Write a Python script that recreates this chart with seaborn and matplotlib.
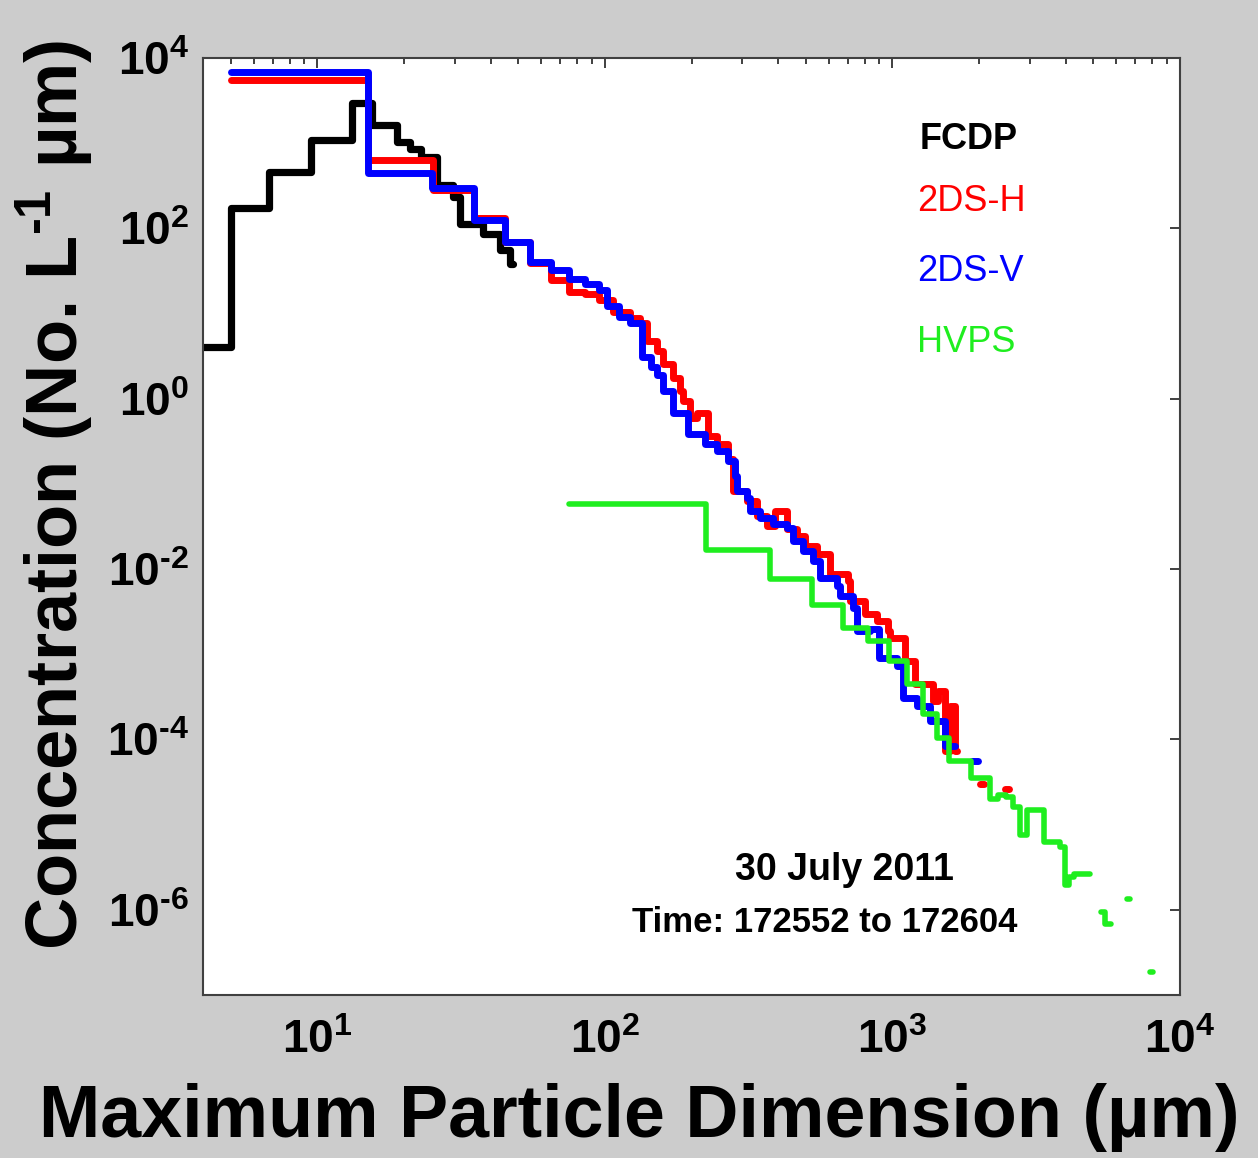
import numpy as np
import pandas as pd
import seaborn as sns
import matplotlib.pyplot as plt
from matplotlib.ticker import LogLocator, FuncFormatter, NullLocator

# Estilo general
sns.set_style('white')
plt.rcParams['font.family'] = ['Liberation Sans', 'DejaVu Sans']
plt.rcParams['mathtext.fontset'] = 'custom'
plt.rcParams['mathtext.rm'] = 'Liberation Sans:bold'
plt.rcParams['mathtext.bf'] = 'Liberation Sans:bold'
plt.rcParams['mathtext.it'] = 'Liberation Sans:bold'
plt.rcParams['text.color'] = 'black'
plt.rcParams['axes.labelcolor'] = 'black'
plt.rcParams['xtick.color'] = 'black'
plt.rcParams['ytick.color'] = 'black'

# --- datos (bordes de bin en um, concentracion por bin) ---
fcdp_edges = [3, 5, 6.8, 9.5, 13.2, 15.5, 18.9, 21, 23, 26, 29.7, 31.3, 37.8, 43.2, 46.8, 48]
fcdp_vals = [4.0, 172, 457, 1085, 2930, 1630, 1035, 850, 690, 321, 233, 113, 86.5, 55, 38.5]

h_edges = [5, 15, 25.2, 35, 45, 55, 65, 75, 85, 95, 107, 122, 132, 140, 152, 159, 173,
           182, 187, 198, 209, 228, 245, 268, 279, 312, 338, 366, 391, 430, 466, 497,
           547, 607, 701, 712, 803, 884, 965, 981, 1106, 1198, 1384, 1441, 1524, 1586,
           1651, 1677, 2017, 2083, 2465, 2545]
h_vals = [5510, 631, 280, 131, 68.4, 38.7, 24.5, 17.7, 16.7, 14.2, 10.3, 8.74, 7.63,
          4.81, 3.67, 2.58, 1.77, 1.24, 0.947, 0.597, 0.684, 0.367, 0.296, 0.197,
          0.0827, 0.0631, 0.042, 0.032, 0.0481, 0.0296, 0.0245, 0.0187, 0.015,
          0.00874, 0.00722, 0.0042, 0.00296, 0.00245, 0.00187, 0.00154, 0.000828,
          0.000444, 0.00028, 0.000367, 7.22e-5, 0.000244, 7.22e-5, np.nan, 2.96e-5,
          np.nan, 2.65e-5]

v_edges = [5, 15, 25, 35, 45, 55, 65, 75, 85, 95, 102, 112, 122, 134, 144, 152, 159,
           173, 195, 223, 245, 268, 284, 288, 312, 320, 346, 384, 430, 451, 489, 530,
           560, 642, 658, 730, 753, 836, 898, 1037, 1088, 1218, 1351, 1524, 1651,
           1891, 1985]
v_vals = [6840, 444, 296, 124, 68.4, 39.8, 32.1, 25.1, 21.9, 18.7, 12.1, 8.98, 7.63,
          3.12, 2.38, 1.91, 1.24, 0.684, 0.387, 0.296, 0.245, 0.187, 0.124, 0.0827,
          0.0684, 0.0481, 0.0398, 0.0338, 0.0303, 0.0214, 0.0163, 0.0124, 0.00783,
          0.00631, 0.00481, 0.00347, 0.00187, 0.00197, 0.000898, 0.000722, 0.000303,
          0.000244, 0.000163, 8.28e-5, np.nan, 5.51e-5]

hvps_edges = list(range(75, 8026, 150))
hvps_vals = [0.0582, 0.0167, 0.00762, 0.00377, 0.00202, 0.00142, 0.000828, 0.000444,
             0.000197, 0.000103, 5.51e-5, 5.51e-5, 3.48e-5, 3.48e-5, 2.02e-5, 2.25e-5,
             2.13e-5, 1.63e-5, 7.62e-6, 1.5e-5, 1.5e-5, 1.5e-5, 6.31e-6, 6.31e-6,
             6.31e-6, 5.51e-6, 1.97e-6, 2.44e-6, 2.65e-6, 2.65e-6, 2.65e-6, 2.65e-6,
             np.nan, np.nan, np.nan, 9.47e-7, 6.84e-7, 6.84e-7, np.nan, np.nan, np.nan,
             np.nan, np.nan, 1.35e-6, np.nan, np.nan, np.nan, np.nan, np.nan, np.nan,
             np.nan, np.nan, 1.87e-7]

probes = ['FCDP', '2DS-H', '2DS-V', 'HVPS']
colors = {'FCDP': 'black', '2DS-H': '#ff0000', '2DS-V': '#0000ff', 'HVPS': '#1fee1f'}
widths = {'FCDP': 5.2, '2DS-H': 5.0, '2DS-V': 5.0, 'HVPS': 4.0}


def stairs_df(edges, vals, name):
    # convierte bins en vertices de escalera; los huecos (nan) separan segmentos
    rows = []
    seg = 0
    for i, v in enumerate(vals):
        if np.isnan(v):
            seg += 1
            continue
        rows.append((edges[i], v, seg))
        rows.append((edges[i + 1], v, seg))
    return pd.DataFrame(rows, columns=['D', 'N', 'seg']).assign(probe=name)


data = {
    'FCDP': stairs_df(fcdp_edges, fcdp_vals, 'FCDP'),
    '2DS-H': stairs_df(h_edges, h_vals, '2DS-H'),
    '2DS-V': stairs_df(v_edges, v_vals, '2DS-V'),
    'HVPS': stairs_df(hvps_edges, hvps_vals, 'HVPS'),
}

fig = plt.figure(figsize=(12.58, 11.58), dpi=100, facecolor='#cccccc')
ax = fig.add_axes([0.1614, 0.1408, 0.7766, 0.8092])
ax.set_facecolor('white')
ax.set_xscale('log')
ax.set_yscale('log')

for p in probes:
    sns.lineplot(data=data[p], x='D', y='N', units='seg', estimator=None, sort=False,
                 color=colors[p], linewidth=widths[p], ax=ax)

ax.set_xlim(4, 1e4)
ax.set_ylim(1e-7, 1e4)

# Ejes y marcas (guion corto en el exponente, como en el original)
fmt = FuncFormatter(lambda v, pos: r'$\mathbf{10^{%s}}$'
                    % str(round(np.log10(v))).replace('-', '\u2010'))
ax.xaxis.set_major_locator(LogLocator(base=10, numticks=10))
ax.xaxis.set_minor_locator(LogLocator(base=10, subs=np.arange(2, 10), numticks=100))
ax.xaxis.set_major_formatter(fmt)
ax.set_yticks([1e-6, 1e-4, 1e-2, 1, 1e2, 1e4])
ax.yaxis.set_minor_locator(NullLocator())
ax.yaxis.set_major_formatter(fmt)
ax.tick_params(which='both', direction='in', top=True, right=True, color='#404040',
               width=1.4, labelsize=33)
ax.tick_params(which='major', length=7)
ax.tick_params(which='minor', length=4.5)
ax.tick_params(axis='x', pad=17)
ax.tick_params(axis='y', pad=10)
for s in ax.spines.values():
    s.set_color('#404040')
    s.set_linewidth(1.5)

# Etiquetas
ax.set_xlabel('Maximum Particle Dimension (µm)', fontsize=53, fontweight='bold')
ax.xaxis.set_label_coords(0.447, -0.131)
ax.xaxis.label.set_va('center')
ax.set_ylabel('Concentration (No. L$^{\\mathbf{\u20101}}$ µm)', fontsize=52,
              fontweight='bold')
ax.yaxis.set_label_coords(-0.1515, 0.534)
ax.yaxis.label.set_va('center')

# Leyenda como texto
ax.text(0.733, 0.9125, 'FCDP', transform=ax.transAxes, fontsize=26,
        fontweight='bold', color='black', va='center')
ax.text(0.731, 0.8463, '2DS-H', transform=ax.transAxes, fontsize=26,
        color=colors['2DS-H'], va='center')
ax.text(0.731, 0.7716, '2DS-V', transform=ax.transAxes, fontsize=26,
        color=colors['2DS-V'], va='center')
ax.text(0.731, 0.6958, 'HVPS', transform=ax.transAxes, fontsize=26,
        color=colors['HVPS'], va='center')

ax.text(0.657, 0.1334, '30 July 2011', transform=ax.transAxes, fontsize=27,
        fontweight='bold', ha='center', va='center')
ax.text(0.6366, 0.0768, 'Time: 172552 to 172604', transform=ax.transAxes, fontsize=25,
        fontweight='bold', ha='center', va='center')

fig.savefig('out.png', dpi=100, facecolor=fig.get_facecolor())
